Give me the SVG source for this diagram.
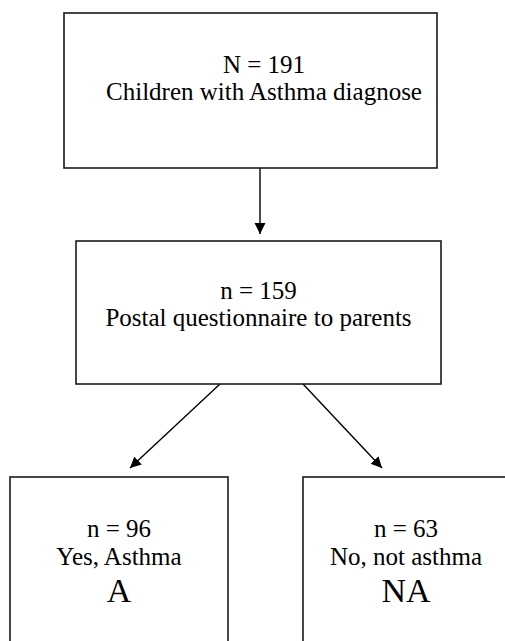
<svg xmlns="http://www.w3.org/2000/svg" width="505" height="641" viewBox="0 0 505 641">
<style>
.box{fill:#fff;stroke:#1a1a1a;stroke-width:1.6}
text{font-family:'Liberation Serif','Times New Roman','DejaVu Serif',serif;font-size:25px;fill:#000;text-anchor:middle}
.big{font-size:34px}
.c{stroke:#000;stroke-width:1.4;fill:none}
</style>
<defs>
<marker id="ah" markerWidth="12" markerHeight="12" viewBox="0 0 12 12" refX="11" refY="6" orient="auto" markerUnits="userSpaceOnUse">
<path d="M0,0.5 L11,6 L0,11.5 z" fill="#000"/>
</marker>
</defs>
<rect width="505" height="641" fill="#fff"/>
<g id="connectors">
<line class="c" x1="260" y1="168" x2="260" y2="234" marker-end="url(#ah)"/>
<line class="c" x1="220" y1="384" x2="130" y2="468" marker-end="url(#ah)"/>
<line class="c" x1="303" y1="384" x2="382" y2="468" marker-end="url(#ah)"/>
</g>
<g id="n191" font-family="Liberation Serif, serif">
<rect class="box" x="64" y="13" width="373" height="155"/>
<text x="264" y="73">N = 191</text>
<text x="264" y="100">Children with Asthma diagnose</text>
</g>
<g id="n159">
<rect class="box" x="76" y="241" width="365" height="143"/>
<text x="258.5" y="299">n = 159</text>
<text x="258.5" y="326">Postal questionnaire to parents</text>
</g>
<g id="nA">
<rect class="box" x="10" y="477" width="218" height="180"/>
<text x="119" y="537">n = 96</text>
<text x="119" y="565">Yes, Asthma</text>
<text class="big" x="119" y="602">A</text>
</g>
<g id="nNA">
<rect class="box" x="303" y="477" width="206" height="180"/>
<text x="406" y="537">n = 63</text>
<text x="406" y="565">No, not asthma</text>
<text class="big" x="406" y="602">NA</text>
</g>
</svg>
